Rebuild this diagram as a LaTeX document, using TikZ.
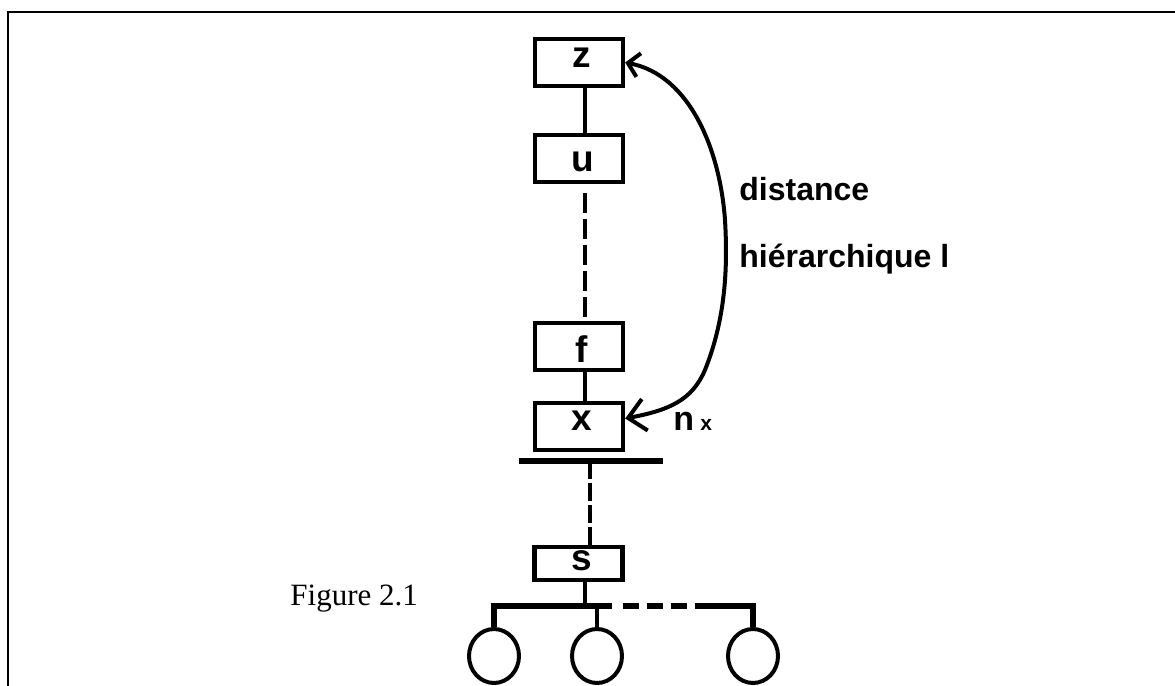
\documentclass[tikz,border=0pt]{standalone}
\usepackage{fontspec}
\setmainfont{Liberation Serif}
\newfontfamily\hv{Liberation Sans}
\usetikzlibrary{arrows.meta,shapes.geometric}

\begin{document}
\begin{tikzpicture}[x=0.5pt,y=-0.5pt,
  box/.style={draw,line width=2.2pt,minimum width=44pt,minimum height=23.5pt,inner sep=0pt},
  letter/.style={anchor=base,inner sep=0pt,font=\hv\bfseries\fontsize{18.5}{20}\selectfont},
  word/.style={anchor=base west,inner sep=0pt,font=\hv\bfseries\fontsize{16}{18}\selectfont},
  link/.style={line width=2.1pt},
  dlink/.style={line width=2.2pt,dash pattern=on 10pt off 3pt},
  leaf/.style={draw,ellipse,line width=2pt,minimum width=25pt,minimum height=27pt,inner sep=0pt},
  hier/.style={line width=2pt,
    {Straight Barb[length=5.5pt,width=12pt]}-{Straight Barb[length=8.5pt,width=16pt]}}]
\useasboundingbox (0,0) rectangle (1175,686);

% frame
\draw[line width=0.9pt] (8,686) -- (8,12) -- (1175,12);

% chain of boxes
\node[box] (z) at (579,62.5) {};
\node[box] (u) at (579,158.5) {};
\node[box] (f) at (579,346.5) {};
\node[box] (x) at (579,426.5) {};
\node[box,minimum height=16.5pt] (s) at (578.5,563.5) {};

\node[letter] (zl) at (582,67) {z};
\node[letter] (ul) at (583,171) {u};
\node[letter] (fl) at (582,362) {f};
\node[letter] (xl) at (582,430) {x};
\node[letter] (sl) at (582,570) {s};

% vertical axis of the chain
\coordinate (ax) at (585,0);
\coordinate (ax2) at (590,0);
\draw[link] (z.south -| ax) -- (u.north -| ax);
\draw[dlink] (585,193) -- (585,317);
\draw[link] (f.south -| ax) -- (x.north -| ax);

% bar below x
\coordinate (barL) at (519,461);
\coordinate (barR) at (663,461);
\draw[line width=2.8pt] (barL) -- (barR);
\draw[line width=2.2pt,dash pattern=on 9pt off 2pt] (barL -| ax2) -- (s.north -| ax2);

% children of s
\coordinate (busL) at (494,606);
\coordinate (busR) at (753,606);
\node[leaf] (c1) at (494,656) {};
\node[leaf] (c2) at (597,656) {};
\node[leaf] (c3) at (753,656) {};
\draw[link] (s.south -| ax) -- (ax |- busL);
\draw[line width=2.6pt] (c1.north) -- (busL) -- (612,606);
\draw[line width=2.6pt,dash pattern=on 8pt off 4pt] (623,606) -- (688,606);
\draw[line width=2.6pt] (695,606) -- (busR) -- (c3.north);
\draw[link] (c2.north) -- (c2.north |- busL);

% hierarchical distance
\draw[hier] (z.east) .. controls (690,75) and (720,150) .. (725,220)
  .. controls (728,270) and (725,320) .. (705,370)
  .. controls (692,400) and (670,410) .. ([yshift=4pt]x.east);
\node[word] (d1) at (739,200) {distance};
\node[word] (d2) at (739,267) {hiérarchique l};
\node[anchor=base west,inner sep=0pt,font=\hv\bfseries\fontsize{17}{18}\selectfont] (nx) at (673,430) {n};
\node[anchor=base west,inner sep=0pt,font=\hv\bfseries\fontsize{10.5}{12}\selectfont] (nxs) at (700,430) {x};

% caption
\node[anchor=base west,inner sep=0pt,font=\fontsize{15.5}{18}\selectfont] (cap) at (290,605) {Figure 2.1};
\end{tikzpicture}
\end{document}
